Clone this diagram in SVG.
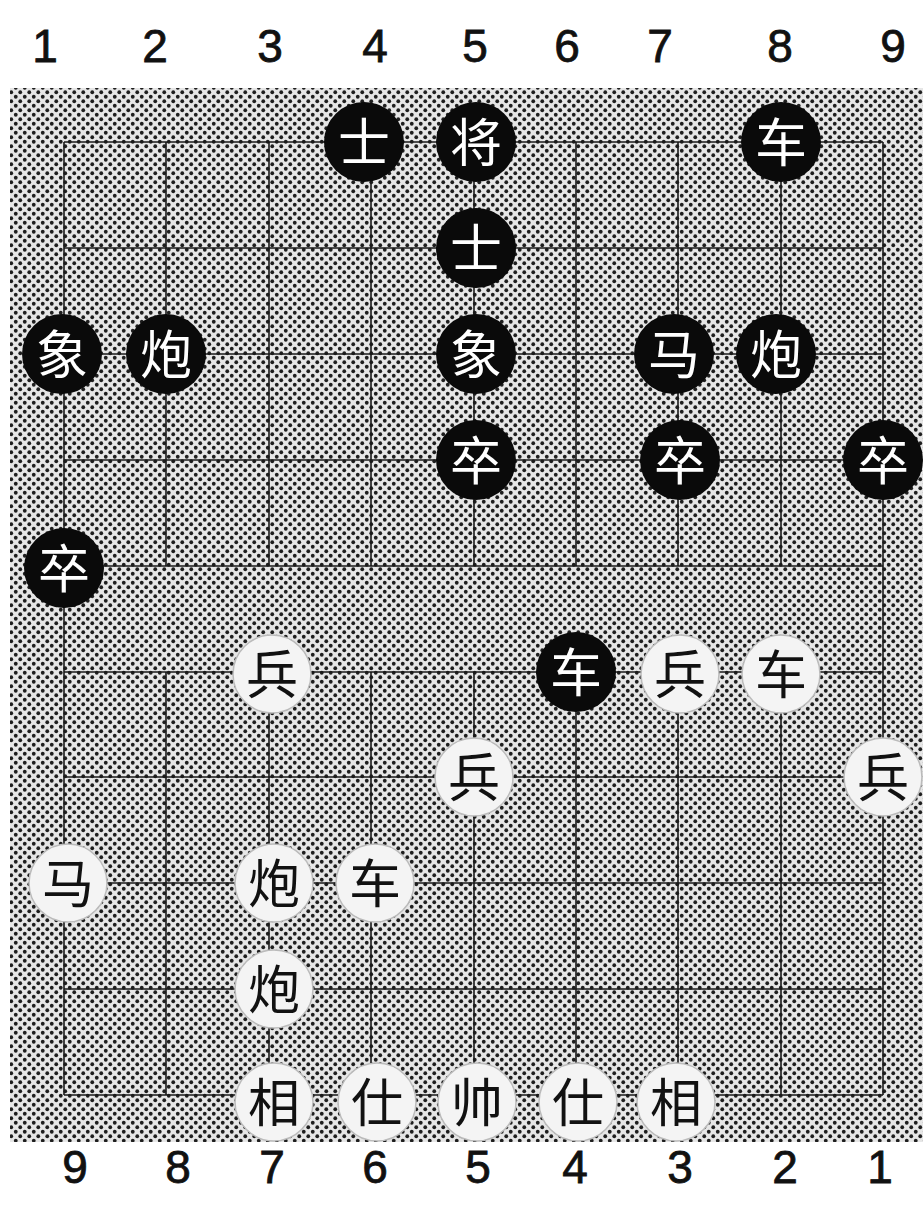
<svg xmlns="http://www.w3.org/2000/svg" width="923" height="1205" viewBox="0 0 923 1205">
<defs>
<pattern id="dots" width="9" height="9" patternUnits="userSpaceOnUse">
<rect width="9" height="9" fill="#e6e6e6"/>
<circle cx="2.25" cy="2.25" r="1.9" fill="#1e1e1e"/>
<circle cx="6.75" cy="6.75" r="1.9" fill="#1e1e1e"/>
</pattern>
</defs>
<style>
.num{font-family:"Liberation Sans",Arial,sans-serif;font-size:46px;fill:#111;stroke:#111;stroke-width:0.8;text-anchor:middle}
.grid line{stroke:#1a1a1a;stroke-width:1.6}
.blk circle{fill:#0a0a0a}
.blk text{fill:#fff}
.wht circle{fill:#f4f4f4;stroke:#bbb;stroke-width:1.5}
.wht text{fill:#111}
.pc text{font-family:"Noto Sans CJK SC","Noto Sans CJK JP",sans-serif;font-size:52px;text-anchor:middle}
</style>
<rect width="923" height="1205" fill="#fff"/>
<rect x="10" y="88" width="913" height="1054" fill="url(#dots)"/>
<g id="top-numbers">
<text class="num" x="45" y="62">1</text>
<text class="num" x="155" y="62">2</text>
<text class="num" x="270" y="62">3</text>
<text class="num" x="375" y="62">4</text>
<text class="num" x="475" y="62">5</text>
<text class="num" x="567" y="62">6</text>
<text class="num" x="660" y="62">7</text>
<text class="num" x="780" y="62">8</text>
<text class="num" x="893" y="62">9</text>
</g>
<g id="bottom-numbers">
<text class="num" x="75" y="1183">9</text>
<text class="num" x="178" y="1183">8</text>
<text class="num" x="272" y="1183">7</text>
<text class="num" x="375" y="1183">6</text>
<text class="num" x="478" y="1183">5</text>
<text class="num" x="575" y="1183">4</text>
<text class="num" x="680" y="1183">3</text>
<text class="num" x="785" y="1183">2</text>
<text class="num" x="880" y="1183">1</text>
</g>
<g id="connectors" class="grid">
<line x1="64" y1="142" x2="883" y2="142"/>
<line x1="64" y1="248" x2="883" y2="248"/>
<line x1="64" y1="354" x2="883" y2="354"/>
<line x1="64" y1="460" x2="883" y2="460"/>
<line x1="64" y1="566" x2="883" y2="566"/>
<line x1="64" y1="672" x2="883" y2="672"/>
<line x1="64" y1="777" x2="883" y2="777"/>
<line x1="64" y1="883" x2="883" y2="883"/>
<line x1="64" y1="989" x2="883" y2="989"/>
<line x1="64" y1="1095" x2="883" y2="1095"/>
<line x1="64" y1="142" x2="64" y2="1095"/>
<line x1="883" y1="142" x2="883" y2="1095"/>
<line x1="166" y1="142" x2="166" y2="566"/>
<line x1="269" y1="142" x2="269" y2="566"/>
<line x1="371" y1="142" x2="371" y2="566"/>
<line x1="474" y1="142" x2="474" y2="566"/>
<line x1="576" y1="142" x2="576" y2="566"/>
<line x1="678" y1="142" x2="678" y2="566"/>
<line x1="781" y1="142" x2="781" y2="566"/>
<line x1="166" y1="672" x2="166" y2="1095"/>
<line x1="269" y1="672" x2="269" y2="1095"/>
<line x1="371" y1="672" x2="371" y2="1095"/>
<line x1="474" y1="672" x2="474" y2="1095"/>
<line x1="576" y1="672" x2="576" y2="1095"/>
<line x1="678" y1="672" x2="678" y2="1095"/>
<line x1="781" y1="672" x2="781" y2="1095"/>
</g>
<g id="b-shi1" class="pc blk"><circle cx="364" cy="142" r="40"/><text x="364" y="162">士</text></g>
<g id="b-jiang" class="pc blk"><circle cx="476" cy="142" r="40"/><text x="476" y="162">将</text></g>
<g id="b-che1" class="pc blk"><circle cx="781" cy="142" r="40"/><text x="781" y="162">车</text></g>
<g id="b-shi2" class="pc blk"><circle cx="476" cy="248" r="40"/><text x="476" y="268">士</text></g>
<g id="b-xiang1" class="pc blk"><circle cx="62" cy="354" r="40"/><text x="62" y="374">象</text></g>
<g id="b-pao1" class="pc blk"><circle cx="166" cy="354" r="40"/><text x="166" y="374">炮</text></g>
<g id="b-xiang2" class="pc blk"><circle cx="476" cy="354" r="40"/><text x="476" y="374">象</text></g>
<g id="b-ma" class="pc blk"><circle cx="674" cy="354" r="40"/><text x="674" y="374">马</text></g>
<g id="b-pao2" class="pc blk"><circle cx="776" cy="354" r="40"/><text x="776" y="374">炮</text></g>
<g id="b-zu1" class="pc blk"><circle cx="476" cy="460" r="40"/><text x="476" y="480">卒</text></g>
<g id="b-zu2" class="pc blk"><circle cx="680" cy="460" r="40"/><text x="680" y="480">卒</text></g>
<g id="b-zu3" class="pc blk"><circle cx="883" cy="460" r="40"/><text x="883" y="480">卒</text></g>
<g id="b-zu4" class="pc blk"><circle cx="64" cy="568" r="40"/><text x="64" y="588">卒</text></g>
<g id="b-che2" class="pc blk"><circle cx="576" cy="672" r="40"/><text x="576" y="692">车</text></g>
<g id="w-bing1" class="pc wht"><circle cx="272" cy="674" r="39"/><text x="272" y="694">兵</text></g>
<g id="w-bing2" class="pc wht"><circle cx="680" cy="674" r="39"/><text x="680" y="694">兵</text></g>
<g id="w-che1" class="pc wht"><circle cx="781" cy="674" r="39"/><text x="781" y="694">车</text></g>
<g id="w-bing3" class="pc wht"><circle cx="474" cy="777" r="39"/><text x="474" y="797">兵</text></g>
<g id="w-bing4" class="pc wht"><circle cx="883" cy="777" r="39"/><text x="883" y="797">兵</text></g>
<g id="w-ma" class="pc wht"><circle cx="68" cy="883" r="39"/><text x="68" y="903">马</text></g>
<g id="w-pao1" class="pc wht"><circle cx="274" cy="883" r="39"/><text x="274" y="903">炮</text></g>
<g id="w-che2" class="pc wht"><circle cx="375" cy="883" r="39"/><text x="375" y="903">车</text></g>
<g id="w-pao2" class="pc wht"><circle cx="274" cy="989" r="39"/><text x="274" y="1009">炮</text></g>
<g id="w-xiang1" class="pc wht"><circle cx="274" cy="1102" r="39"/><text x="274" y="1122">相</text></g>
<g id="w-shi1" class="pc wht"><circle cx="377" cy="1102" r="39"/><text x="377" y="1122">仕</text></g>
<g id="w-shuai" class="pc wht"><circle cx="477" cy="1102" r="39"/><text x="477" y="1122">帅</text></g>
<g id="w-shi2" class="pc wht"><circle cx="578" cy="1102" r="39"/><text x="578" y="1122">仕</text></g>
<g id="w-xiang2" class="pc wht"><circle cx="676" cy="1102" r="39"/><text x="676" y="1122">相</text></g>
</svg>
